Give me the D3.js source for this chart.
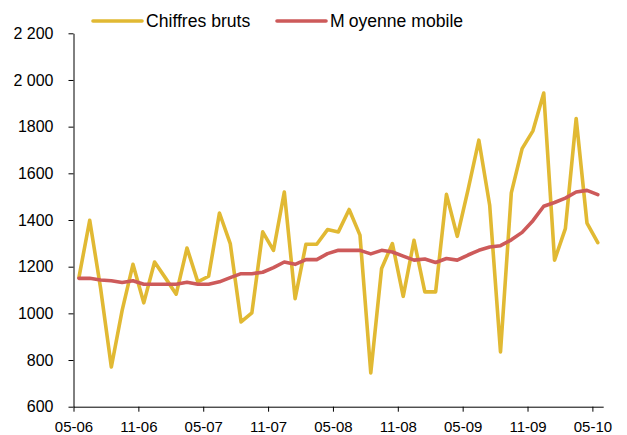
<!DOCTYPE html>
<html><head><meta charset="utf-8">
<script src="https://cdn.jsdelivr.net/npm/d3@7"></script>
<style>
html,body{margin:0;padding:0;background:#fff;}
svg{display:block;font-family:"Liberation Sans",Arial,sans-serif;}
</style></head>
<body>
<svg id="chart" width="627" height="435"></svg>
<script>
const months = ["05-06","06-06","07-06","08-06","09-06","10-06","11-06","12-06",
"01-07","02-07","03-07","04-07","05-07","06-07","07-07","08-07","09-07","10-07","11-07","12-07",
"01-08","02-08","03-08","04-08","05-08","06-08","07-08","08-08","09-08","10-08","11-08","12-08",
"01-09","02-09","03-09","04-09","05-09","06-09","07-09","08-09","09-09","10-09","11-09","12-09",
"01-10","02-10","03-10","04-10","05-10"];
const chiffresBruts = [1153,1399,1110,770,1013,1210,1045,1220,1152,1082,1280,1135,1159,1430,1299,963,1002,1349,1270,1520,1063,1296,1296,1359,1349,1445,1335,745,1192,1299,1073,1313,1092,1092,1510,1330,1530,1742,1463,835,1516,1706,1782,1944,1228,1363,1835,1387,1303];
const moyenneMobile = [1150,1150,1143,1140,1132,1140,1125,1125,1125,1125,1133,1125,1125,1135,1153,1170,1170,1176,1196,1220,1210,1230,1230,1256,1270,1270,1270,1255,1270,1263,1245,1228,1233,1218,1235,1228,1250,1270,1284,1290,1315,1347,1397,1459,1475,1494,1520,1527,1509];
const yTickValues = [600,800,1000,1200,1400,1600,1800,2000,2200];
const yTickLabels = ["600","800","1000","1200","1400","1600","1800","2 000","2 200"];
const xTickLabels = ["05-06","11-06","05-07","11-07","05-08","11-08","05-09","11-09","05-10"];
const seriesNames = ["Chiffres bruts","Moyenne mobile"];
const colors = ["#E1B933","#CD5A5A"];

const svg = d3.select("#chart");
const x = d3.scaleLinear().domain([0, months.length]).range([73.5, 603.2]);
const y = d3.scaleLinear().domain([600, 2200]).range([406.7, 33.3]);

// axes
const xTickIdx = xTickLabels.map(l => months.indexOf(l));
const xAxis = d3.axisBottom(x).tickValues(xTickIdx).tickSize(5).tickSizeOuter(0).tickPadding(10)
  .tickFormat((d,i) => xTickLabels[i]);
const gx = svg.append("g").attr("transform","translate(0,406.7)").call(xAxis);
gx.selectAll("text").attr("font-size","15px").attr("fill","#000").attr("font-family","Liberation Sans, Arial, sans-serif");
gx.selectAll("line,path").attr("stroke","#000");

const yAxis = d3.axisLeft(y).tickValues(yTickValues).tickSize(5).tickSizeOuter(0).tickPadding(15)
  .tickFormat((d,i) => yTickLabels[i]);
const gy = svg.append("g").attr("transform","translate(73.5,0)").call(yAxis);
gy.selectAll("text").attr("font-size","16px").attr("fill","#000").attr("font-family","Liberation Sans, Arial, sans-serif");
gy.selectAll("line,path").attr("stroke","#000");

// lines
const line = d3.line().x((d,i) => x(i + 0.5)).y(d => y(d));
[chiffresBruts, moyenneMobile].forEach((s, k) => {
  svg.append("path").datum(s).attr("d", line).attr("fill","none")
    .attr("stroke", colors[k]).attr("stroke-width", 3.6)
    .attr("stroke-linejoin","round").attr("stroke-linecap","round");
});

// legend
const leg = [{x1:93,x2:142,tx:146},{x1:277,x2:326,tx:330}];
leg.forEach((l,k) => {
  svg.append("line").attr("x1",l.x1).attr("x2",l.x2).attr("y1",21).attr("y2",21)
    .attr("stroke",colors[k]).attr("stroke-width",3.6).attr("stroke-linecap","round");
});
svg.append("text").attr("x",146).attr("y",26.5).attr("font-size","17.6px").attr("fill","#000")
  .text(seriesNames[0]);
const t2 = svg.append("text").attr("x",330).attr("y",26.5).attr("font-size","17.6px").attr("fill","#000");
t2.append("tspan").text(seriesNames[1].slice(0,1));
t2.append("tspan").attr("dx",4).text(seriesNames[1].slice(1));
</script>
</body></html>
